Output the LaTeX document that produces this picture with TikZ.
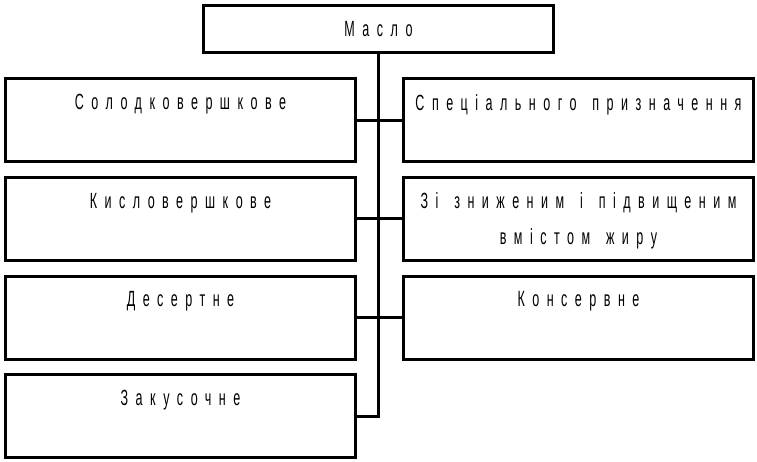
\documentclass[tikz,border=0pt]{standalone}
\usepackage{fontspec}
\setmainfont{Liberation Sans}[FakeStretch=0.57, LetterSpace=34, WordSpace=1.45]
\usetikzlibrary{positioning}

\tikzset{
    box/.style={draw, line width=3pt, minimum width=350pt, inner sep=0pt},
    txt/.style={anchor=north, inner sep=0pt, yshift=-17pt, align=center},
    link/.style={line width=3pt}
}

\begin{document}
\begin{tikzpicture}[x=1pt, y=-1pt, font=\fontsize{22}{36}\selectfont]
    \useasboundingbox (0,0) rectangle (757,461);

    \node[box, minimum height=47pt, label={[txt]north:Масло}] (maslo) at (378.5,29) {};

    \node[box, minimum height=83pt, label={[txt]north:Солодковершкове}] (sol) at (180.5,120) {};
    \node[box, minimum height=83pt, label={[txt]north:Кисловершкове}] (kysl) at (180.5,218.8) {};
    \node[box, minimum height=83pt, label={[txt]north:Десертне}] (desert) at (180.5,317.6) {};
    \node[box, minimum height=83pt, label={[txt]north:Закусочне}] (zakus) at (180.5,416.4) {};

    \node[box, minimum height=83pt, label={[txt]north:Спеціального призначення}] (spec) at (578.5,120) {};
    \node[box, minimum height=83pt, label={[txt]north:Зі зниженим і підвищеним\\вмістом жиру}] (zhyr) at (578.5,218.8) {};
    \node[box, minimum height=83pt, label={[txt]north:Консервне}] (kons) at (578.5,317.6) {};

    % trunk and branches
    \draw[link] (maslo.south) -- (maslo.south |- zakus.east) -- (zakus.east);
    \draw[link] (sol.east) -- (spec.west);
    \draw[link] (kysl.east) -- (zhyr.west);
    \draw[link] (desert.east) -- (kons.west);
\end{tikzpicture}
\end{document}
